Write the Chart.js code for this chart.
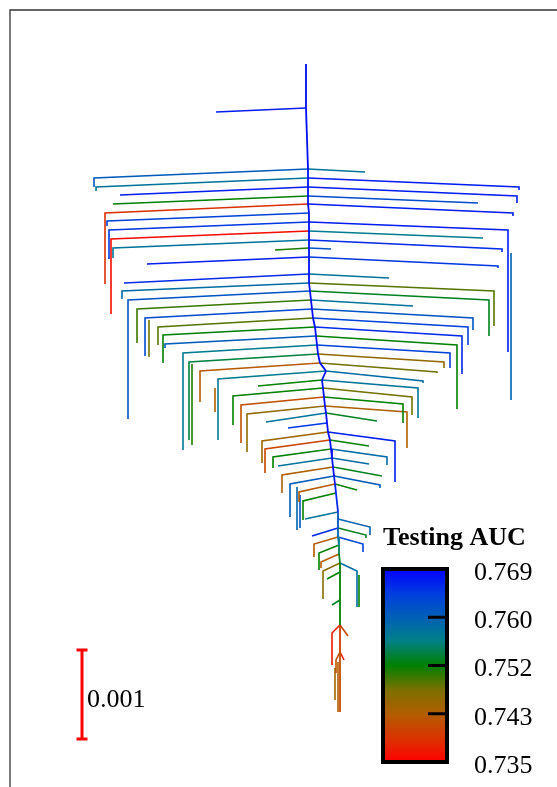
<!DOCTYPE html>
<html>
<head>
<meta charset="utf-8">
<script src="https://cdn.jsdelivr.net/npm/chart.js@4.4.1/dist/chart.umd.min.js"></script>
<style>
  html, body { margin: 0; padding: 0; background: #fff; }
  canvas { display: block; }
</style>
</head>
<body>
<canvas id="tree-chart" width="557" height="787"></canvas>
<script>
// trunk junctions, top to bottom (x, y in plot units) and the AUC of the trunk piece above each one
const trunkTop = [306, 64];
const trunkBottom = [340, 712];
const junctionY = [108, 169, 178, 187, 196, 204, 213, 222, 231, 240, 248, 257, 274, 283, 291, 300, 309, 318, 327, 336,
  345, 354, 363, 371, 380, 388, 397, 406, 413, 423, 432, 440, 449, 458, 467, 476, 484, 493, 512, 519,
  528, 537, 545, 554, 563, 572, 600, 625, 652];
const junctionX = [306, 308, 308, 308, 308, 308, 309, 309, 309, 309, 309, 309, 309, 309, 310, 311, 312, 313, 315, 316,
  317, 318, 320, 326, 322, 323, 324, 325, 326, 327, 328, 330, 331, 332, 333, 334, 335, 336, 338, 338,
  338, 338, 339, 339, 340, 340, 340, 340, 340];
const trunkAuc = [0.768, 0.768, 0.768, 0.768, 0.768, 0.768, 0.768, 0.768, 0.768, 0.768, 0.768, 0.768, 0.768, 0.768, 0.768, 0.768, 0.768, 0.768, 0.768, 0.768,
  0.768, 0.768, 0.768, 0.768, 0.768, 0.768, 0.768, 0.768, 0.768, 0.768, 0.768, 0.768, 0.768, 0.768, 0.768, 0.768, 0.767, 0.767, 0.766, 0.762,
  0.762, 0.760, 0.757, 0.755, 0.753, 0.752, 0.752, 0.752, 0.740];
const trunkBottomAuc = 0.742;

// branches: [end x, end y, drop to y (null = none), testing AUC], one per junction
const leftBranches = [
  [216, 112, null, 0.767], [94, 178, 187, 0.761], [96, 187, 191, 0.758], [120, 195, null, 0.767], [113, 204, null, 0.752],
  [105, 213, 284, 0.739], [107, 221, 226, 0.764], [109, 230, 259, 0.765], [111, 239, 314, 0.736], [113, 248, 258, 0.758],
  [275, 250, null, 0.751], [147, 264, null, 0.767], [124, 283, null, 0.766], [122, 291, 299, 0.759], [128, 300, 419, 0.762],
  [137, 309, 343, 0.750], [145, 318, 356, 0.763], [158, 327, 345, 0.749], [163, 335, 363, 0.752], [165, 344, 348, 0.761],
  [183, 353, 450, 0.757], [189, 362, 440, 0.754], [200, 371, 402, 0.743], [218, 379, 440, 0.757], [258, 386, null, 0.752],
  [233, 396, 425, 0.752], [241, 405, 443, 0.742], [247, 414, 452, 0.746], [266, 422, null, 0.758], [288, 428, null, 0.765],
  [262, 441, 463, 0.745], [265, 449, 473, 0.741], [273, 457, 468, 0.752], [278, 466, null, 0.758], [282, 475, 493, 0.744],
  [290, 484, 517, 0.761], [299, 492, 502, 0.743], [303, 501, 520, 0.752], [305, 519, null, 0.758], null,
  [312, 536, null, 0.766], [314, 544, 557, 0.743], [319, 553, 570, 0.752], [321, 562, 568, 0.743], [323, 571, 599, 0.747],
  [327, 579, null, 0.752], [332, 605, null, 0.753], [332, 633, 665, 0.737], [336, 660, 673, 0.742]
];
const rightBranches = [
  null, [365, 172, null, 0.758], [519, 187, 190, 0.767], [517, 196, 203, 0.767], [478, 203, null, 0.763],
  [513, 213, 216, 0.767], null, [508, 230, 352, 0.767], [483, 238, null, 0.757], [502, 249, 252, 0.766],
  [331, 249, null, 0.762], [498, 266, 268, 0.765], [389, 278, null, 0.758], [494, 291, 326, 0.749], [489, 300, 336, 0.753],
  [413, 306, null, 0.758], [473, 318, 330, 0.762], [468, 327, 345, 0.764], [462, 336, 374, 0.766], [457, 345, 409, 0.752],
  [450, 353, 368, 0.764], [444, 362, 368, 0.746], [437, 372, 373, 0.748], [423, 381, 383, 0.759], [418, 388, 418, 0.758],
  [412, 397, 415, 0.748], [403, 404, 423, 0.752], [407, 412, 448, 0.744], [377, 421, null, 0.753], null,
  [395, 441, 482, 0.767], [369, 446, null, 0.752], [387, 457, 465, 0.759], [369, 464, null, 0.759], [382, 476, null, 0.753],
  [380, 485, 488, 0.761], [357, 490, null, 0.752], null, null, [370, 527, 535, 0.760],
  [366, 535, 538, 0.753], [363, 544, 552, 0.764], null, null, [357, 571, 607, 0.759],
  null, null, [348, 636, null, 0.741], [344, 660, null, 0.737]
];
// extra leaves hanging below some branch ends: [x, top y, bottom y, AUC]
const extraDrops = [
  [511, 253, 400, 0.760], [149, 320, 357, 0.748], [192, 364, 445, 0.751], [215, 388, 412, 0.744],
  [297, 487, 530, 0.760], [300, 495, 528, 0.762], [359, 575, 607, 0.752], [338, 662, 712, 0.743], [335, 668, 700, 0.745]
];

// colour bar
const aucMin = 0.735;
const aucMax = 0.769;
const colorbarLabels = ['0.769', '0.760', '0.752', '0.743', '0.735'];
const colorbarTitle = 'Testing AUC';
// scale bar
const scaleBarLabel = '0.001';
const scaleBarX = 82;
const scaleBarY = [650, 739];

const COLOR_STOPS = [
  [0, [255, 0, 0]], [0.12, [218, 50, 0]], [0.25, [178, 94, 0]], [0.37, [126, 112, 0]],
  [0.5, [0, 128, 0]], [0.63, [0, 128, 136]], [0.74, [0, 98, 178]], [0.87, [0, 62, 222]], [1, [0, 0, 255]]
];

function aucColor(v) {
  let t = (v - aucMin) / (aucMax - aucMin);
  t = Math.max(0, Math.min(1, t));
  for (let i = 1; i < COLOR_STOPS.length; i++) {
    const [t1, c1] = COLOR_STOPS[i];
    const [t0, c0] = COLOR_STOPS[i - 1];
    if (t <= t1) {
      const f = (t - t0) / (t1 - t0);
      const c = c0.map((a, k) => Math.round(a + (c1[k] - a) * f));
      return `rgb(${c[0]}, ${c[1]}, ${c[2]})`;
    }
  }
  return 'rgb(0, 0, 255)';
}

function lineSet(points, color, width) {
  return {
    data: points.map(p => ({ x: p[0], y: p[1] })),
    showLine: true,
    borderColor: color,
    borderWidth: width || 1.6,
    pointRadius: 0,
    borderJoinStyle: 'miter',
    borderCapStyle: 'butt',
    fill: false
  };
}

const datasets = [];

// trunk
let prev = trunkTop;
junctionY.forEach((y, i) => {
  const p = [junctionX[i], y];
  datasets.push(lineSet([prev, p], aucColor(trunkAuc[i]), 1.8));
  prev = p;
});
datasets.push(lineSet([prev, trunkBottom], aucColor(trunkBottomAuc), 1.8));

// side branches
[leftBranches, rightBranches].forEach(side => {
  side.forEach((b, i) => {
    if (!b) return;
    const pts = [[junctionX[i], junctionY[i]], [b[0], b[1]]];
    if (b[2] !== null) pts.push([b[0], b[2]]);
    datasets.push(lineSet(pts, aucColor(b[3])));
  });
});

extraDrops.forEach(d => {
  datasets.push(lineSet([[d[0], d[1]], [d[0], d[2]]], aucColor(d[3])));
});

// scale bar
datasets.push(lineSet([[scaleBarX, scaleBarY[0]], [scaleBarX, scaleBarY[1]]], '#ff0000', 3));
scaleBarY.forEach(y => datasets.push(lineSet([[scaleBarX - 5.5, y], [scaleBarX + 5.5, y]], '#ff0000', 3)));

const decorPlugin = {
  id: 'decor',
  afterDraw(chart) {
    const ctx = chart.ctx;
    const xs = chart.scales.x;
    const ys = chart.scales.y;
    ctx.save();

    // frame (left and top only visible)
    ctx.strokeStyle = '#333';
    ctx.lineWidth = 1.3;
    ctx.beginPath();
    ctx.moveTo(10, 787);
    ctx.lineTo(10, 10);
    ctx.lineTo(557, 10);
    ctx.stroke();

    // scale bar label
    ctx.fillStyle = '#000';
    ctx.font = '26px "Liberation Serif", serif';
    ctx.textBaseline = 'middle';
    ctx.textAlign = 'left';
    ctx.fillText(scaleBarLabel, xs.getPixelForValue(scaleBarX) + 5, ys.getPixelForValue((scaleBarY[0] + scaleBarY[1]) / 2) + 6);

    // colour bar
    const left = 383, top = 569, w = 64, h = 193;
    const grad = ctx.createLinearGradient(0, top + h, 0, top);
    COLOR_STOPS.forEach(s => grad.addColorStop(s[0], `rgb(${s[1][0]}, ${s[1][1]}, ${s[1][2]})`));
    ctx.fillStyle = grad;
    ctx.fillRect(left, top, w, h);
    ctx.strokeStyle = '#000';
    ctx.lineWidth = 4;
    ctx.strokeRect(left, top, w, h);

    ctx.lineWidth = 3;
    for (let i = 1; i < colorbarLabels.length - 1; i++) {
      const y = top + h * i / (colorbarLabels.length - 1);
      ctx.beginPath();
      ctx.moveTo(left + w - 19, y);
      ctx.lineTo(left + w, y);
      ctx.stroke();
    }

    ctx.fillStyle = '#000';
    ctx.font = '26px "Liberation Serif", serif';
    colorbarLabels.forEach((lab, i) => {
      const y = top + h * i / (colorbarLabels.length - 1) + 4;
      ctx.fillText(lab, 474, y);
    });

    ctx.font = 'bold 26px "Liberation Serif", serif';
    ctx.fillText(colorbarTitle, 383, 538);
    ctx.restore();
  }
};

new Chart(document.getElementById('tree-chart'), {
  type: 'scatter',
  data: { datasets: datasets },
  options: {
    responsive: false,
    animation: false,
    events: [],
    layout: { padding: 0 },
    scales: {
      x: { type: 'linear', min: 0, max: 557, display: false },
      y: { type: 'linear', min: 0, max: 787, reverse: true, display: false }
    },
    plugins: {
      legend: { display: false },
      tooltip: { enabled: false }
    }
  },
  plugins: [decorPlugin]
});
</script>
</body>
</html>
